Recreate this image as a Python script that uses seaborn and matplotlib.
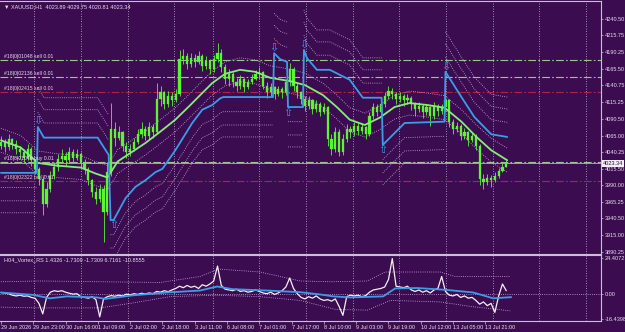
import numpy as np
import pandas as pd
import matplotlib
matplotlib.use("Agg")
import matplotlib.pyplot as plt
import matplotlib.transforms as mtransforms
import seaborn as sns

nan = np.nan

# ---------------- data ----------------
bar_hours = list(range(0, 268, 2))
first_open = 4050
closes = [
    4055, 4048, 4060, 4052, 4045, 4040, 4032, 4045, 4028, 4015,
    4000, 3962, 3985, 4005, 4018, 4030, 4035, 4028, 4040, 4032,
    4038, 4025, 4015, 3998, 3980, 3970, 3985, 3950, 4010, 4075,
    4062, 4070, 4050, 4040, 4045, 4055, 4068, 4075, 4065, 4078,
    4070, 4120, 4130, 4112, 4125, 4118, 4128, 4180, 4185, 4172,
    4182, 4176, 4185, 4170, 4178, 4165, 4180, 4190, 4168, 4150,
    4158, 4145, 4140, 4150, 4138, 4145, 4150, 4158, 4160, 4140,
    4130, 4138, 4128, 4135, 4130, 4145, 4165, 4140, 4130, 4120,
    4110, 4118, 4105, 4112, 4100, 4108, 4060, 4045, 4070, 4040,
    4060, 4075, 4070, 4080, 4072, 4078, 4068, 4095, 4108, 4100,
    4112, 4125, 4132, 4128, 4120, 4125, 4118, 4122, 4112, 4105,
    4110, 4100, 4108, 4095, 4110, 4102, 4108, 4118, 4085, 4075,
    4080, 4065, 4070, 4058, 4065, 4050, 4000, 3995, 4002, 3998,
    4005, 4012, 4018, 4023.34]
highs = [
    4065, 4060, 4068, 4062, 4058, 4050, 4045, 4052, 4048, 4030,
    4018, 4005, 3995, 4012, 4025, 4038, 4045, 4040, 4048, 4045,
    4045, 4040, 4030, 4018, 4000, 3988, 3992, 3990, 4025, 4114,
    4085, 4080, 4072, 4055, 4052, 4062, 4075, 4085, 4080, 4085,
    4082, 4144, 4140, 4132, 4132, 4130, 4135, 4194, 4195, 4190,
    4190, 4188, 4192, 4188, 4185, 4180, 4186, 4204, 4195, 4172,
    4165, 4160, 4152, 4156, 4152, 4150, 4158, 4164, 4168, 4162,
    4145, 4144, 4140, 4140, 4138, 4150, 4174, 4168, 4145, 4132,
    4124, 4124, 4120, 4118, 4115, 4114, 4110, 4068, 4078, 4075,
    4068, 4082, 4080, 4086, 4084, 4084, 4080, 4100, 4114, 4112,
    4118, 4130, 4140, 4136, 4130, 4130, 4128, 4128, 4124, 4115,
    4116, 4112, 4112, 4110, 4115, 4112, 4112, 4128, 4120, 4090,
    4086, 4082, 4076, 4072, 4070, 4068, 4052, 4008, 4008, 4006,
    4010, 4016, 4024, 4029]
lows = [
    4045, 4040, 4044, 4045, 4038, 4032, 4025, 4028, 4020, 4008,
    3990, 3945, 3958, 3980, 4000, 4012, 4025, 4020, 4024, 4025,
    4028, 4018, 4008, 3990, 3972, 3962, 3965, 3905, 3945, 4005,
    4050, 4058, 4042, 4032, 4035, 4042, 4052, 4062, 4058, 4060,
    4062, 4068, 4110, 4105, 4108, 4110, 4115, 4125, 4172, 4165,
    4168, 4168, 4172, 4162, 4165, 4158, 4160, 4175, 4160, 4142,
    4140, 4138, 4132, 4135, 4130, 4135, 4142, 4148, 4150, 4135,
    4122, 4124, 4120, 4124, 4122, 4126, 4140, 4132, 4122, 4112,
    4102, 4105, 4098, 4100, 4094, 4098, 4050, 4036, 4040, 4034,
    4036, 4055, 4062, 4065, 4066, 4068, 4060, 4064, 4090, 4094,
    4096, 4108, 4120, 4120, 4112, 4115, 4110, 4112, 4104, 4095,
    4100, 4092, 4096, 4080, 4090, 4095, 4098, 4100, 4078, 4068,
    4070, 4058, 4060, 4050, 4055, 4044, 3990, 3985, 3990, 3988,
    3995, 4002, 4010, 4018]

ma_h = [0, 10.5, 19.4, 28.9, 42, 49.8, 56.1, 61.4, 68.2, 76.1, 83.9, 91.8,
        99.7, 104.9, 111.2, 118, 125.9, 133.8, 141.7, 152.2, 160, 169.5,
        176.8, 183.6, 191.5, 199.4, 207.2, 215.1, 224.6, 233.5, 242.4,
        250.3, 258.1, 266.5]
ma_p = [4058, 4047, 4024, 4020, 4017, 4008, 4002, 4026, 4039, 4054, 4071,
        4089, 4111, 4126, 4144, 4158, 4164, 4161, 4152, 4147, 4141, 4126,
        4108, 4089, 4081, 4092, 4108, 4114, 4111, 4107, 4086, 4063, 4043, 4028]
env_up = [4076, 4065, 4042, 4038, 4035, 4026, 4020, 4044, 4057, 4072, 4089,
          4107, 4129, 4144, 4162, 4176, 4182, 4179, 4170, 4165, 4159, 4144,
          4126, 4107, 4099, 4110, 4126, 4132, 4129, 4125, 4104, 4081, 4061, 4046]
env_dn = [4040, 4029, 4006, 4002, 3999, 3990, 3984, 4008, 4021, 4036, 4053,
          4071, 4093, 4108, 4126, 4140, 4146, 4143, 4134, 4129, 4123, 4108,
          4090, 4071, 4063, 4074, 4090, 4096, 4093, 4089, 4068, 4045, 4025, 4010]

blue_h = [0, 18.9, 19.4, 22.6, 50.9, 56.7, 57.7, 59.3, 65.6, 70.8, 76.1,
          81.3, 85, 91.8, 100.7, 106, 111.2, 115.4, 117, 143.2, 143.8, 146.9,
          150.6, 151.1, 159, 159.5, 161, 166.3, 173.1, 183.6, 190.5, 200.4,
          201, 212.5, 233.5, 234, 242.4, 249.2, 258.1, 266.5]
blue_p = [4009, 4009, 4078, 4062, 4062, 4036, 3938, 3938, 3971, 3988, 3998,
          4010, 4015, 4043, 4084, 4104, 4111, 4121, 4123, 4123, 4189, 4180,
          4176, 4108, 4108, 4194, 4182, 4164, 4164, 4149, 4122, 4122, 4051,
          4084, 4086, 4161, 4123, 4093, 4067, 4063]

band_h = [0, 18.9, nan,
          19.4, 22.6, 50.9, 56.7, nan,
          57.7, 59.3, 65.6, 70.8, 76.1, 81.3, 85, 91.8, 100.7, 106, 111.2, 115.4, 117, 143.2, nan,
          143.8, 146.9, 150.6, nan,
          151.1, 159, nan,
          159.5, 161, 166.3, 173.1, 183.6, 190.5, 200.4, nan,
          201, 212.5, 233.5, nan,
          234, 242.4, 249.2, 258.1, 266.5]
band1 = [3987, 3987, nan,
         4100, 4084, 4084, 4058, nan,
         3916, 3916, 3949, 3966, 3976, 3988, 3993, 4021, 4062, 4082, 4089, 4099, 4101, 4101, nan,
         4211, 4202, 4198, nan,
         4086, 4086, nan,
         4216, 4204, 4186, 4186, 4171, 4144, 4144, nan,
         4029, 4062, 4064, nan,
         4183, 4145, 4115, 4089, 4085]
band2 = [3967, 3967, nan,
         4120, 4104, 4104, 4078, nan,
         3896, 3896, 3929, 3946, 3956, 3968, 3973, 4001, 4042, 4062, 4069, 4079, 4081, 4081, nan,
         4231, 4222, 4218, nan,
         4066, 4066, nan,
         4236, 4224, 4206, 4206, 4191, 4164, 4164, nan,
         4009, 4042, 4044, nan,
         4203, 4165, 4135, 4109, 4105]
band3 = [3949, 3949, nan,
         4138, 4122, 4122, 4096, nan,
         3878, 3878, 3911, 3928, 3938, 3950, 3955, 3983, 4024, 4044, 4051, 4061, 4063, 4063, nan,
         4249, 4240, 4236, nan,
         4048, 4048, nan,
         4254, 4242, 4224, 4224, 4209, 4182, 4182, nan,
         3991, 4024, 4026, nan,
         4221, 4183, 4153, 4127, 4123]

arrow_down_h = [19.4, 143.8, 159.5, 234]
arrow_down_p = [4080, 4189, 4194, 4161]
arrow_up_h = [59.3, 151.1, 201]
arrow_up_p = [3938, 4106, 4051]

price_ticks = [4240.50, 4215.75, 4190.25, 4165.50, 4140.75, 4115.25, 4090.50,
               4065.00, 4040.25, 4015.50, 3990.00, 3965.25, 3940.50, 3915.00, 3890.25]
time_ticks = [0, 17, 34, 51, 68, 85, 102, 119, 136, 153, 170, 187, 204, 221, 238, 255]
time_labels = ["29 Jun 2026", "29 Jun 23:00", "30 Jun 16:00", "1 Jul 09:00",
               "2 Jul 02:00", "2 Jul 18:00", "3 Jul 11:00", "6 Jul 08:00",
               "7 Jul 01:00", "7 Jul 17:00", "8 Jul 10:00", "9 Jul 03:00",
               "9 Jul 19:00", "10 Jul 12:00", "13 Jul 05:00", "13 Jul 21:00"]
grid_hours = [17.4, 42.2, 66.9, 91.1, 111.7, 135.9, 160.6, 185.4, 209.6,
              234.4, 259.1, 283.3, 308.1]

order_levels = [4179, 4153, 4131, 4026, 3997]
order_kinds = ["g", "g", "r", "g", "r"]
order_labels = ["#18|0|01048 sell 0.01", "#18|0|02136 sell 0.01",
                "#18|0|02415 sell 0.01", "#18|0|01048 buy 0.01",
                "#18|0|02322 buy 0.01"]
last_price = 4023.34
header = "\u25BC XAUUSD,H1  4023.89 4029.75 4020.81 4023.34"

osc = [1.3, 1.0, 0.5, -0.5, -1.0, -0.5, -1.2, -1.0, -2.0, -2.6,
       -6.0, -13.0, -2.0, 1.5, 2.5, 2.0, 2.5, 1.5, 0.8, 0.2,
       0.5, -1.5, -2.0, -2.5, -1.5, -3.5, -15.0, -3.0, -1.5, -0.8,
       -1.2, -0.5, -1.0, 0.2, -0.3, 0.5, 0.0, 0.8, 0.3, 1.0,
       0.5, 2.0, 1.5, 2.5, 1.8, 3.0, 4.0, 5.5, 4.5, 6.0,
       4.8, 5.5, 4.0, 6.5, 5.5, 7.0, 9.0, 19.0, 6.0, 3.5,
       3.0, 2.5, 3.5, 2.0, 2.5, 1.5, 2.0, 3.0, 2.0, 1.0,
       0.5, 1.5, 0.0, 1.0, 2.5, 5.0, 11.0, 4.0, 0.5, -2.0,
       -3.0, -1.5, -2.5, -1.0, -3.0, -4.0, -3.5, -4.5, -3.0, -8.0,
       -14.0, -1.5, -0.5, -1.0, -0.5, -1.5, -0.8, 1.5, 3.0, 3.5,
       4.0, 5.0, 10.0, 24.0, 5.5, 5.0, 4.5, 5.5, 3.0, 2.0,
       3.0, 1.5, 2.5, 1.0, 3.0, 4.0, 12.0, 2.0, -0.5, -1.0,
       0.0, -2.0, -1.0, -2.5, -2.0, -4.0, -6.5, -5.0, -7.5, -6.0,
       -12.0, -1.0, 7.0, 2.5]
sig_h = [0, 16.9, 25.8, 34.8, 50.6, 54.8, 69.5, 87.4, 104.8, 113.8, 122.2,
         140.1, 157.5, 168, 174.9, 183.8, 201.2, 207.5, 219.1, 234.9, 248.6,
         259.1, 268.6]
sig_v = [1.3, -0.3, -2.6, -1.3, -2.0, -3.0, -0.6, 1.3, 2.6, 5.3, 3.5, 2.6,
         1.5, 0.0, -1.3, -2.0, -1.3, 4.0, 4.3, 3.0, 1.3, -2.6, -1.8]
sub_up_h = [0, 20.6, 52.2, 83.8, 104.8, 114.3, 136.4, 157.5, 173.3, 192.8,
            202.2, 231.2, 239.1, 268.1]
sub_up_v = [8.5, 9, 8.5, 8, 12, 17, 15, 9, 8.5, 9, 15, 15, 12, 12]
sub_dn_h = [0, 20.6, 52.2, 68, 89, 113, 136.4, 157.5, 176, 192.8, 205, 231.2,
            247, 268.1]
sub_dn_v = [-8.5, -9, -9, -6, -1.5, -0.5, -1.5, -4, -10, -10.5, -4, -5, -8, -11]
sub_ticks = [24.4072, 0.0, -16.4398]
sub_tick_labels = ["24.4072", "0.00", "-16.4398"]
sub_header = "H04_Vortex_RS 1.4326 -1.7309 -1.7309 6.7161 -10.8555"

# ---------------- style ----------------
BG = "#3b0d50"
LIME = "#5cf532"
MA_C = "#86ec7a"
BLUE = "#3a9ee6"
DOT = "#cfa9de"
GRID = "#c9b6da"
TXT = "#e6dcef"
SPINE = "#cbbfd6"
GREEN_ORD = "#9cc48c"
RED_ORD = "#b0204c"
FS = 4.0
FAM = ["Liberation Sans Narrow", "Liberation Sans", "DejaVu Sans"]

sns.set_theme(style="dark", rc={"axes.facecolor": BG, "figure.facecolor": BG})
plt.rcParams["font.family"] = FAM

fig = plt.figure(figsize=(6.25, 3.32), dpi=100, facecolor=BG)
AXW = 0.962
ax = fig.add_axes([0.0, 0.235, AXW, 0.762])
ax2 = fig.add_axes([0.0, 0.033, AXW, 0.199])
XL = (-0.5, 316)

for a in (ax, ax2):
    a.set_facecolor(BG)
    a.set_xlim(*XL)
    a.grid(False)
    for gh in grid_hours:
        a.axvline(gh, color=GRID, lw=0.6, ls=(0, (1, 2)), zorder=1)
    for s in ("top", "right", "bottom"):
        a.spines[s].set_visible(True)
        a.spines[s].set_color(SPINE)
        a.spines[s].set_linewidth(0.8)
    a.spines["left"].set_visible(False)

# ---- main panel ----
ax.set_ylim(3887, 4267.5)

for lvl, kind, lab in zip(order_levels, order_kinds, order_labels):
    c = GREEN_ORD if kind == "g" else RED_ORD
    ax.axhline(lvl, color=c, lw=0.8, ls=(0, (7, 2, 1.5, 2)), zorder=2)
    ax.text(1.5, lvl + 1.5, lab, color=TXT if kind == "g" else "#e8c8dc",
            fontsize=FS - 0.3, va="bottom", ha="left", zorder=6)
ax.axhline(last_price, color="#b9b1c4", lw=0.6, zorder=2)

for b in (band1, band2, band3):
    ax.plot(band_h, b, color=DOT, lw=0.6, ls=(0, (1, 1.6)), zorder=3)
ax.plot(ma_h, env_up, color=DOT, lw=0.6, ls=(0, (1, 1.6)), zorder=3)
ax.plot(ma_h, env_dn, color=DOT, lw=0.6, ls=(0, (1, 1.6)), zorder=3)

opens = [first_open] + closes[:-1]
o = np.array(opens, dtype=float)
c = np.array(closes, dtype=float)
bottom = np.minimum(o, c)
height = np.maximum(np.abs(c - o), 0.9)
ax.vlines(bar_hours, lows, highs, color=LIME, lw=0.6, zorder=4)
ax.bar(bar_hours, height, bottom=bottom, width=1.1, color=LIME,
       edgecolor=LIME, linewidth=0.2, zorder=4)

ma_df = pd.DataFrame({"h": ma_h, "p": ma_p})
sns.lineplot(data=ma_df, x="h", y="p", ax=ax, color=MA_C, lw=1.3,
             sort=False, estimator=None, zorder=5)
blue_df = pd.DataFrame({"h": blue_h, "p": blue_p})
sns.lineplot(data=blue_df, x="h", y="p", ax=ax, color=BLUE, lw=1.3,
             sort=False, estimator=None, zorder=5)
for h, p in zip(arrow_down_h, arrow_down_p):
    ax.text(h, p, "\u21E9", color=BLUE, fontsize=8, ha="center", va="bottom",
            family="DejaVu Sans", zorder=6)
for h, p in zip(arrow_up_h, arrow_up_p):
    ax.text(h, p, "\u21E7", color=BLUE, fontsize=8, ha="center", va="top",
            family="DejaVu Sans", zorder=6)

ax.set_xlabel("")
ax.set_ylabel("")
ax.set_xticks([])
ax.yaxis.tick_right()
ax.set_yticks(price_ticks)
ax.set_yticklabels([f"{v:.2f}" for v in price_ticks])
ax.tick_params(axis="y", colors=SPINE, labelcolor=TXT, labelsize=FS,
               length=1.5, width=0.5, pad=0.8, direction="out", right=True, left=False)
trans = mtransforms.blended_transform_factory(ax.transAxes, ax.transData)
ax.text(1.003, last_price, f"{last_price:.2f}", transform=trans, fontsize=FS,
        color="#2a1036", va="center", ha="left", clip_on=False, zorder=10,
        bbox=dict(boxstyle="square,pad=0.15", fc="#f2eef6", ec="none"))
ax.text(0.007, 0.988, header, transform=ax.transAxes, fontsize=FS,
        color=TXT, va="top", ha="left")

# ---- sub panel ----
ax2.set_ylim(-17.8, 26.4)
ax2.plot([XL[0], XL[1]], [0, 0], color=DOT, lw=0.6, ls=(0, (1, 1.6)), zorder=2)
ax2.plot(sub_up_h, sub_up_v, color=DOT, lw=0.6, ls=(0, (1, 1.6)), zorder=3)
ax2.plot(sub_dn_h, sub_dn_v, color=DOT, lw=0.6, ls=(0, (1, 1.6)), zorder=3)
osc_df = pd.DataFrame({"h": bar_hours, "v": osc})
sns.lineplot(data=osc_df, x="h", y="v", ax=ax2, color="#f4eef8", lw=0.9,
             sort=False, estimator=None, zorder=4)
sig_df = pd.DataFrame({"h": sig_h, "v": sig_v})
sns.lineplot(data=sig_df, x="h", y="v", ax=ax2, color=BLUE, lw=1.3,
             sort=False, estimator=None, zorder=5)
ax2.set_xlabel("")
ax2.set_ylabel("")
ax2.yaxis.tick_right()
ax2.set_yticks(sub_ticks)
ax2.set_yticklabels(sub_tick_labels)
ax2.tick_params(axis="y", colors=SPINE, labelcolor=TXT, labelsize=FS,
                length=1.5, width=0.5, pad=0.8, direction="out", right=True, left=False)
ax2.set_xticks(time_ticks)
ax2.set_xticklabels(time_labels, ha="left")
ax2.tick_params(axis="x", colors=SPINE, labelcolor=TXT, labelsize=FS,
                length=2, width=0.5, pad=0.8, direction="out", bottom=True)
ax2.text(0.007, 0.97, sub_header, transform=ax2.transAxes, fontsize=FS,
         color=TXT, va="top", ha="left")

fig.savefig("out.png", dpi=100, facecolor=BG)
